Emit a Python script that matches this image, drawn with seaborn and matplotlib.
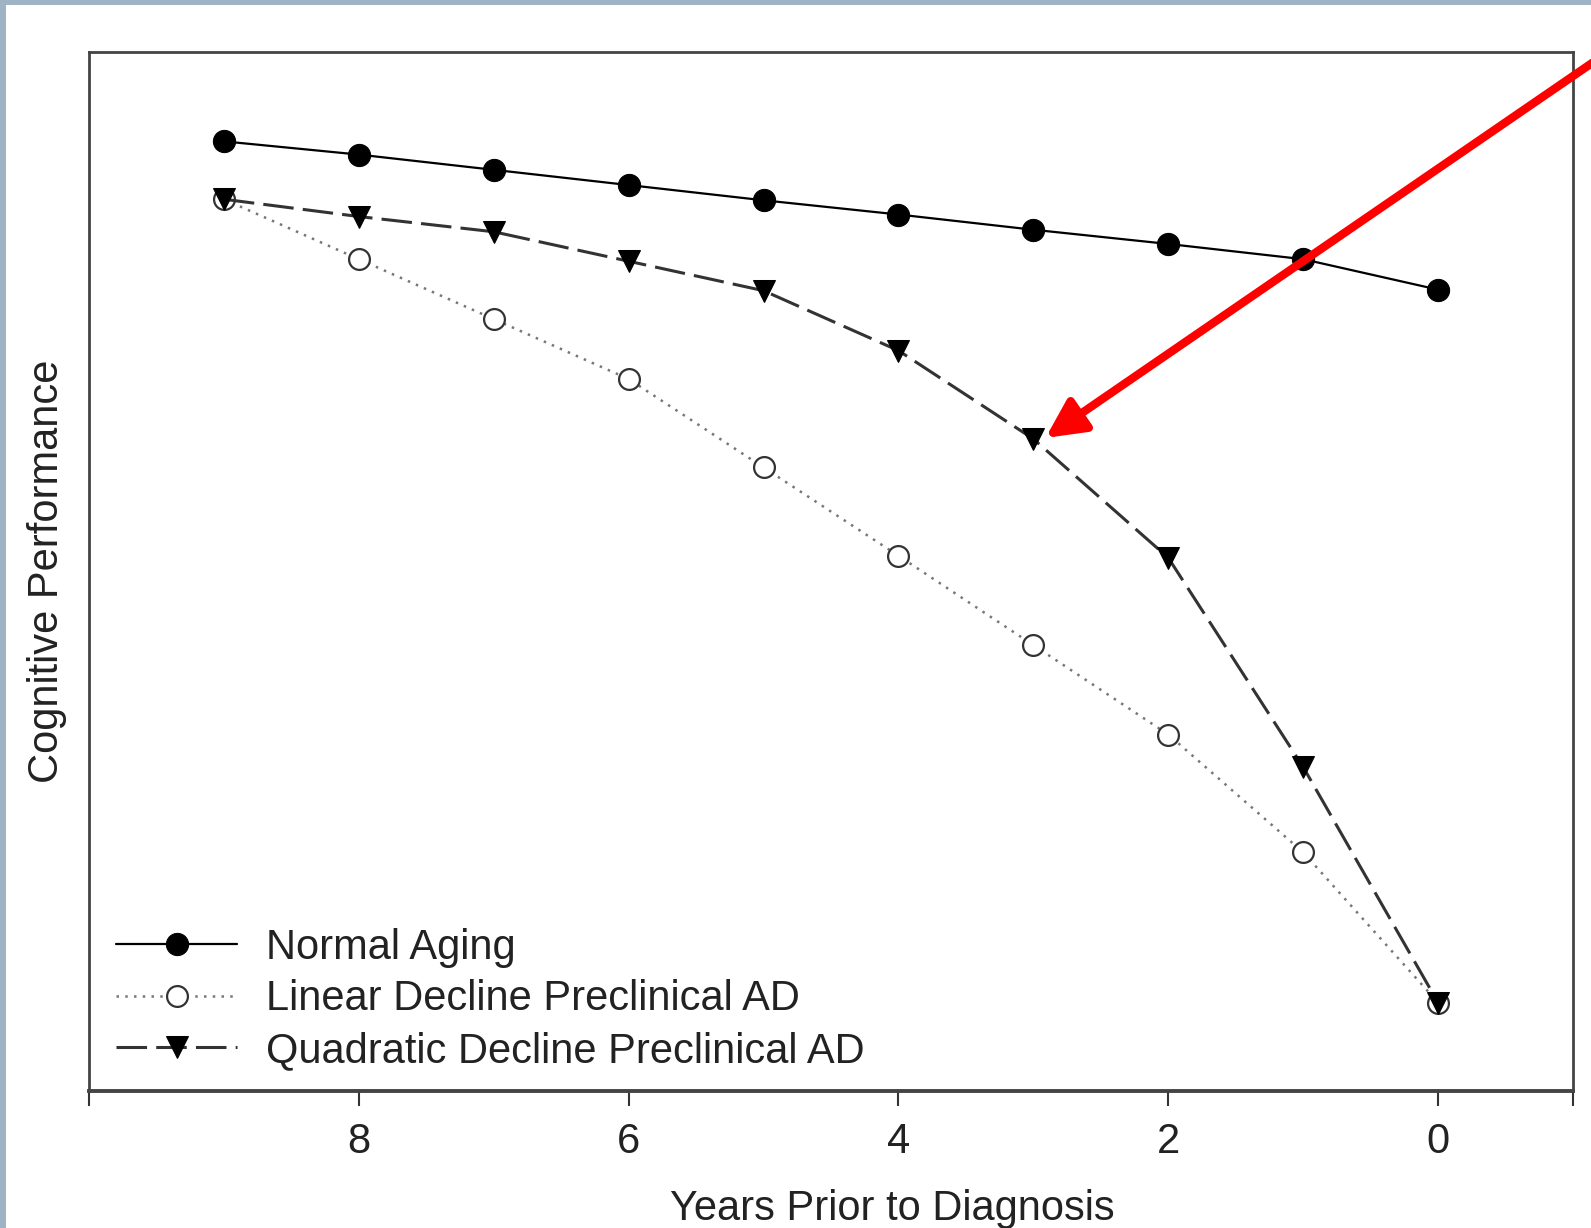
import matplotlib
matplotlib.use("Agg")
import matplotlib.pyplot as plt
import matplotlib.patches as mpatches
import seaborn as sns
import numpy as np

# ---- data ----
years = [9, 8, 7, 6, 5, 4, 3, 2, 1, 0]
normal_aging = [93.5, 92.2, 90.7, 89.2, 87.7, 86.3, 84.8, 83.4, 81.9, 78.9]
linear_decline = [87.8, 81.9, 76.0, 70.1, 61.4, 52.7, 43.9, 35.1, 23.5, 8.7]
quadratic_decline = [87.8, 86.1, 84.6, 81.7, 78.8, 72.9, 64.2, 52.5, 31.9, 8.7]
series_labels = ["Normal Aging", "Linear Decline Preclinical AD", "Quadratic Decline Preclinical AD"]
xtick_values = [10, 8, 6, 4, 2, 0, -1]
xtick_labels = ["", "8", "6", "4", "2", "0", ""]
x_label = "Years Prior to Diagnosis"
y_label = "Cognitive Performance"

sns.set_style("white")
plt.rcParams["font.family"] = ["Liberation Sans", "DejaVu Sans"]

W, H = 1591, 1228
fig = plt.figure(figsize=(W / 100, H / 100), dpi=100)
fig.patch.set_facecolor("#9fb3c5")
bg = mpatches.Rectangle((6 / W, 0), 1 - 6 / W, 1 - 5 / H,
                        transform=fig.transFigure, facecolor="white",
                        edgecolor="none", zorder=-10)
fig.add_artist(bg)

ax = fig.add_axes([89 / W, 1 - 1091 / H, (1573 - 89) / W, (1091 - 52) / H])
ax.set_facecolor("white")

sns.lineplot(x=years, y=normal_aging, ax=ax, color="black", linestyle="-", lw=1.6,
             marker="o", markersize=16, markerfacecolor="black", markeredgecolor="black",
             label=series_labels[0], sort=False)
sns.lineplot(x=years, y=linear_decline, ax=ax, color="#777777", linestyle=(0, (1, 2.5)), lw=1.8,
             marker="o", markersize=15, markerfacecolor="white", markeredgecolor="#333333",
             markeredgewidth=1.6, label=series_labels[1], sort=False)
sns.lineplot(x=years, y=quadratic_decline, ax=ax, color="#333333", linestyle=(0, (10, 3)), lw=2.2,
             marker="v", markersize=16, markerfacecolor="black", markeredgecolor="black",
             label=series_labels[2], sort=False)

ax.set_xlim(10, -1)
ax.set_ylim(0, 102.3)
ax.set_xticks(xtick_values)
ax.set_xticklabels(xtick_labels)
ax.set_yticks([])
ax.tick_params(axis="x", direction="out", length=11, width=1.5, colors="#333333",
               labelsize=30, pad=11, bottom=True)
for lab in ax.get_xticklabels():
    lab.set_color("#222222")
for s in ax.spines.values():
    s.set_color("#444444")
    s.set_linewidth(2)
ax.spines["bottom"].set_linewidth(2.8)

ax.set_xlabel(x_label, fontsize=30, color="#222222")
ax.xaxis.set_label_coords(0.541, -0.094)
ax.set_ylabel(y_label, fontsize=30, color="#222222", labelpad=16)

leg = ax.legend(loc="lower left", frameon=False, fontsize=30, handlelength=2.9,
                handletextpad=0.7, labelspacing=0.28, borderaxespad=0.45, borderpad=0.2,
                bbox_to_anchor=(0.0, -0.0067))
for t in leg.get_texts():
    t.set_color("#222222")

# red arrow
ax.annotate("", xy=(2.91, 64.3), xycoords="data",
            xytext=(1.01, 0.957), textcoords="figure fraction",
            annotation_clip=False,
            arrowprops=dict(arrowstyle="-|>", color="#ff0000", lw=6,
                            mutation_scale=58, shrinkA=0, shrinkB=0))

fig.savefig("out.png", dpi=100)
